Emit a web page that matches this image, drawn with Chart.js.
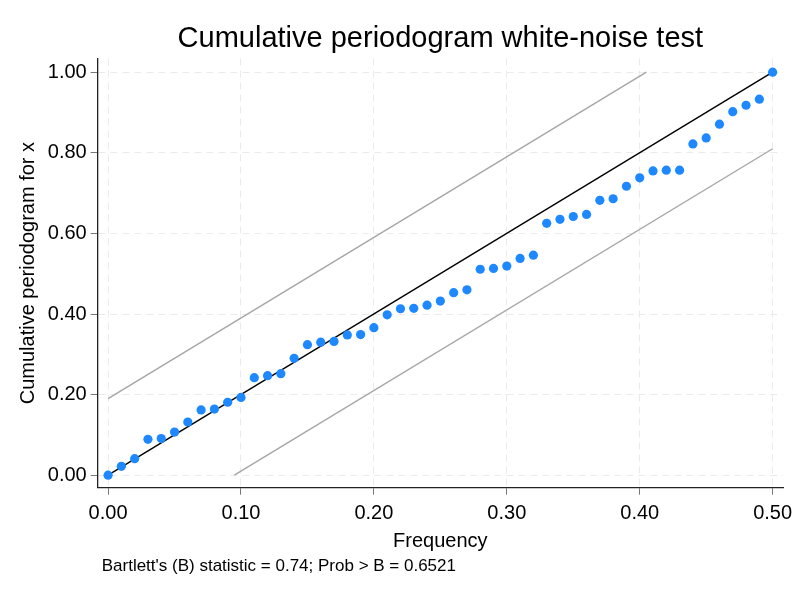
<!DOCTYPE html>
<html>
<head>
<meta charset="utf-8">
<script src="https://cdn.jsdelivr.net/npm/chart.js@4.4.0/dist/chart.umd.min.js"></script>
<style>
  html, body { margin: 0; padding: 0; background: #fff; }
  #wrap { width: 800px; height: 600px; position: relative; }
</style>
</head>
<body>
<div id="wrap"><canvas id="pgram"></canvas></div>
<script>
// Frequencies and cumulative periodogram values
const freq = [0.00, 0.01, 0.02, 0.03, 0.04, 0.05, 0.06, 0.07, 0.08, 0.09,
              0.10, 0.11, 0.12, 0.13, 0.14, 0.15, 0.16, 0.17, 0.18, 0.19,
              0.20, 0.21, 0.22, 0.23, 0.24, 0.25, 0.26, 0.27, 0.28, 0.29,
              0.30, 0.31, 0.32, 0.33, 0.34, 0.35, 0.36, 0.37, 0.38, 0.39,
              0.40, 0.41, 0.42, 0.43, 0.44, 0.45, 0.46, 0.47, 0.48, 0.49,
              0.50];
const cumPgram = [0.000, 0.022, 0.041, 0.089, 0.091, 0.107, 0.132, 0.162, 0.164, 0.181,
                  0.193, 0.242, 0.247, 0.252, 0.290, 0.324, 0.330, 0.332, 0.348, 0.349,
                  0.366, 0.398, 0.413, 0.414, 0.422, 0.432, 0.453, 0.460, 0.511, 0.513,
                  0.519, 0.538, 0.546, 0.625, 0.635, 0.642, 0.647, 0.682, 0.686, 0.717,
                  0.738, 0.755, 0.757, 0.757, 0.822, 0.837, 0.871, 0.902, 0.918, 0.933,
                  1.000];

// Reference diagonal and confidence bands (end points)
const diagX = [0, 0.5];
const diagY = [0, 1];
const upperX = [0, 0.405];
const upperY = [0.19, 1];
const lowerX = [0.095, 0.5];
const lowerY = [0, 0.81];

const xTicks = [0, 0.1, 0.2, 0.3, 0.4, 0.5];
const yTicks = [0, 0.2, 0.4, 0.6, 0.8, 1.0];

const noteText = "Bartlett's (B) statistic = 0.74; Prob > B = 0.6521";

const FONT = '"Liberation Sans", Arial, sans-serif';

function pairs(xs, ys) {
    return xs.map((x, i) => ({ x: x, y: ys[i] }));
}

// Note line under the x axis title
const notePlugin = {
    id: 'note',
    afterDraw(chart) {
        const ctx = chart.ctx;
        ctx.save();
        ctx.font = '17px ' + FONT;
        ctx.fillStyle = '#000';
        ctx.textAlign = 'left';
        ctx.textBaseline = 'middle';
        ctx.fillText(noteText, chart.chartArea.left + 4, chart.scales.x.bottom + 6);
        ctx.restore();
    }
};

const ctx = document.getElementById('pgram').getContext('2d');

new Chart(ctx, {
    type: 'scatter',
    data: {
        datasets: [
            {
                label: 'Cumulative periodogram',
                data: pairs(freq, cumPgram),
                backgroundColor: '#1e88ff',
                borderWidth: 0,
                pointRadius: 4.6,
                pointHoverRadius: 4.6
            },
            {
                label: 'Diagonal',
                data: pairs(diagX, diagY),
                showLine: true,
                borderColor: '#000',
                borderWidth: 1.4,
                pointRadius: 0
            },
            {
                label: 'Upper band',
                data: pairs(upperX, upperY),
                showLine: true,
                borderColor: '#a6a6a6',
                borderWidth: 1.4,
                pointRadius: 0
            },
            {
                label: 'Lower band',
                data: pairs(lowerX, lowerY),
                showLine: true,
                borderColor: '#a6a6a6',
                borderWidth: 1.4,
                pointRadius: 0
            }
        ]
    },
    options: {
        responsive: true,
        maintainAspectRatio: false,
        animation: false,
        layout: {
            padding: { top: 0, right: 17, bottom: 40, left: 0 }
        },
        plugins: {
            legend: { display: false },
            tooltip: { enabled: false },
            title: {
                display: true,
                fullSize: false,
                text: 'Cumulative periodogram white-noise test',
                color: '#000',
                font: { family: FONT, size: 29, weight: 'normal' },
                padding: { top: 22, bottom: 1.7 }
            }
        },
        scales: {
            x: {
                type: 'linear',
                min: -0.0078,
                max: 0.5078,
                afterBuildTicks: scale => {
                    scale.ticks = xTicks.map(v => ({ value: v }));
                },
                afterFit: scale => { scale.height = 72.3; },
                ticks: {
                    color: '#000',
                    font: { family: FONT, size: 20 },
                    padding: 7,
                    maxRotation: 0,
                    callback: v => v.toFixed(2)
                },
                grid: {
                    color: '#ebebeb',
                    lineWidth: 1,
                    tickLength: 7,
                    tickColor: '#777',
                    tickWidth: 1
                },
                border: {
                    display: true,
                    color: '#222',
                    width: 1.3,
                    dash: [7, 5]
                },
                title: {
                    display: true,
                    text: 'Frequency',
                    color: '#000',
                    font: { family: FONT, size: 20 },
                    padding: { top: 0, bottom: 7 }
                }
            },
            y: {
                type: 'linear',
                min: -0.031,
                max: 1.034,
                afterBuildTicks: scale => {
                    scale.ticks = yTicks.map(v => ({ value: v }));
                },
                afterFit: scale => { scale.width = 97.7; },
                ticks: {
                    color: '#000',
                    font: { family: FONT, size: 20 },
                    padding: 4,
                    callback: v => v.toFixed(2)
                },
                grid: {
                    color: '#ebebeb',
                    lineWidth: 1,
                    tickLength: 7,
                    tickColor: '#777',
                    tickWidth: 1
                },
                border: {
                    display: true,
                    color: '#222',
                    width: 1.3,
                    dash: [7, 5]
                },
                title: {
                    display: true,
                    text: 'Cumulative periodogram for x',
                    color: '#000',
                    font: { family: FONT, size: 20 },
                    padding: { top: 16, bottom: 0 }
                }
            }
        }
    },
    plugins: [notePlugin]
});
</script>
</body>
</html>
